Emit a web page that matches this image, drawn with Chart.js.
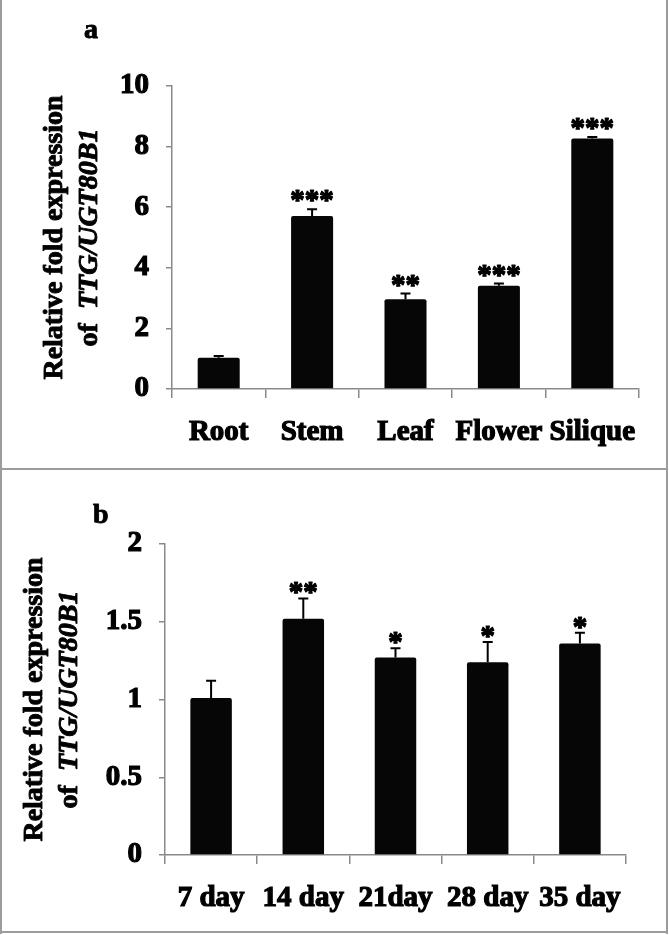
<!DOCTYPE html>
<html><head><meta charset="utf-8">
<script src="https://cdn.jsdelivr.net/npm/chart.js@4.4.0/dist/chart.umd.min.js"></script>
<style>
html,body{margin:0;padding:0;background:#fff;}
#wrap{position:relative;width:669px;height:935px;overflow:hidden;background:#fff;}
.box{position:absolute;left:0;width:669px;}
#pa{top:0;height:469px;}
#pb{top:470px;height:462px;}
.ln{position:absolute;background:#9c9c9c;}
</style></head><body>
<div id="wrap">
<div class="box" id="pa"><canvas id="ca"></canvas></div>
<div class="box" id="pb"><canvas id="cb"></canvas></div>
<div class="ln" style="left:0;top:0;width:2px;height:934px"></div>
<div class="ln" style="left:666px;top:0;width:2px;height:934px"></div>
<div class="ln" style="left:0;top:468px;width:668px;height:2px"></div>
<div class="ln" style="left:0;top:931px;width:668px;height:2px"></div>
</div>
<script>
// Panel a data
const tissues = ['Root', 'Stem', 'Leaf', 'Flower', 'Silique'];
const tissueExpr = [1.03, 5.71, 2.96, 3.41, 8.27];
const tissueErr = [0.06, 0.22, 0.19, 0.07, 0.05];
const tissueStars = ['', '***', '**', '***', '***'];
const tissueTicks = [0, 2, 4, 6, 8, 10];

// Panel b data
const stages = ['7 day', '14 day', '21day', '28 day', '35 day'];
const stageExpr = [1.01, 1.52, 1.27, 1.24, 1.36];
const stageErr = [0.11, 0.13, 0.06, 0.13, 0.07];
const stageStars = ['', '**', '*', '*', '*'];
const stageTicks = [0, 0.5, 1, 1.5, 2];

const titleLine1 = 'Relative fold expression';
const titleLine2a = 'of  ';
const titleLine2b = 'TTG/UGT80B1';

const SERIF = '"Liberation Serif","Times New Roman",serif';
const AXIS_GRAY = '#8a8a8a';

function strokeFill(ctx, txt, x, y, w) {
  ctx.lineWidth = w;
  ctx.strokeStyle = '#000';
  ctx.lineJoin = 'round';
  ctx.strokeText(txt, x, y);
  ctx.fillText(txt, x, y);
}

const extrasPlugin = {
  id: 'extras',
  afterDatasetsDraw(chart, args, opts) {
    const ctx = chart.ctx;
    const meta = chart.getDatasetMeta(0);
    const ys = chart.scales.y;
    const vals = chart.data.datasets[0].data;
    ctx.save();
    ctx.strokeStyle = '#000';
    ctx.lineWidth = 2;
    meta.data.forEach((bar, i) => {
      const top = ys.getPixelForValue(vals[i]);
      const cap = ys.getPixelForValue(vals[i] + opts.errors[i]);
      ctx.beginPath();
      ctx.moveTo(bar.x, top);
      ctx.lineTo(bar.x, cap);
      ctx.moveTo(bar.x - 5, cap);
      ctx.lineTo(bar.x + 5, cap);
      ctx.stroke();
    });
    ctx.fillStyle = '#000';
    ctx.font = 'bold 29px ' + SERIF;
    ctx.textAlign = 'center';
    ctx.textBaseline = 'alphabetic';
    meta.data.forEach((bar, i) => {
      if (!opts.stars[i]) return;
      const cap = ys.getPixelForValue(vals[i] + opts.errors[i]);
      strokeFill(ctx, opts.stars[i], bar.x, cap + opts.starOffset, 1.2);
    });
    ctx.restore();
  },
  afterDraw(chart, args, opts) {
    const ctx = chart.ctx;
    const ca = chart.chartArea;
    const cy = (ca.top + ca.bottom) / 2;
    ctx.save();
    ctx.fillStyle = '#000';
    ctx.textBaseline = 'middle';
    ctx.save();
    ctx.translate(opts.title1X, cy);
    ctx.rotate(-Math.PI / 2);
    ctx.textAlign = 'center';
    ctx.font = 'bold 28px ' + SERIF;
    strokeFill(ctx, titleLine1, 0, 0, 0.9);
    ctx.restore();
    ctx.save();
    ctx.translate(opts.title2X, cy);
    ctx.rotate(-Math.PI / 2);
    ctx.textAlign = 'left';
    ctx.font = 'bold 28px ' + SERIF;
    const w1 = ctx.measureText(titleLine2a).width;
    ctx.font = 'italic bold 28px ' + SERIF;
    const w2 = ctx.measureText(titleLine2b).width;
    const start = -(w1 + w2) / 2;
    ctx.font = 'bold 28px ' + SERIF;
    strokeFill(ctx, titleLine2a, start, 0, 0.9);
    ctx.font = 'italic bold 28px ' + SERIF;
    strokeFill(ctx, titleLine2b, start + w1, 0, 0.9);
    ctx.restore();
    ctx.textBaseline = 'alphabetic';
    ctx.textAlign = 'left';
    ctx.font = 'bold 28px ' + SERIF;
    strokeFill(ctx, opts.letter, opts.letterX, opts.letterY, 0.9);
    ctx.restore();
  }
};

function makeChart(id, labels, values, errors, stars, ticks, L) {
  return new Chart(document.getElementById(id), {
    type: 'bar',
    data: {
      labels: labels,
      datasets: [{
        data: values,
        backgroundColor: '#060606',
        borderWidth: 0,
        borderRadius: 2,
        borderSkipped: 'bottom',
        categoryPercentage: 1,
        barPercentage: 0.45
      }]
    },
    options: {
      responsive: true,
      maintainAspectRatio: false,
      animation: false,
      events: [],
      layout: { padding: { top: L.padTop, right: L.padRight, left: 0, bottom: 0 } },
      plugins: {
        legend: { display: false },
        tooltip: { enabled: false },
        title: { display: false },
        extras: {
          errors: errors, stars: stars, starOffset: L.starOffset,
          title1X: L.title1X, title2X: L.title2X,
          letter: L.letter, letterX: L.letterX, letterY: L.letterY
        }
      },
      scales: {
        x: {
          grid: { display: true, drawOnChartArea: false, drawTicks: true, tickLength: 9, color: AXIS_GRAY, lineWidth: 1.5, offset: true },
          border: { display: true, color: AXIS_GRAY, width: 1.5 },
          ticks: { color: '#000', font: { family: SERIF, size: 29, weight: 'bold' }, padding: 17, maxRotation: 0, autoSkip: false,
                   textStrokeColor: '#000', textStrokeWidth: 1.2 },
          afterFit: (s) => { s.height = L.xHeight; }
        },
        y: {
          min: ticks[0],
          max: ticks[ticks.length - 1],
          afterBuildTicks: (s) => { s.ticks = ticks.map(v => ({ value: v })); },
          grid: { display: true, drawOnChartArea: false, drawTicks: true, tickLength: 6, color: AXIS_GRAY, lineWidth: 1.5 },
          border: { display: true, color: AXIS_GRAY, width: 1.5 },
          ticks: { color: '#000', font: { family: SERIF, size: 29, weight: 'bold' }, padding: 17,
                   textStrokeColor: '#000', textStrokeWidth: 1.2,
                   callback: (v) => String(v) },
          afterFit: (s) => { s.width = L.yWidth; }
        }
      }
    },
    plugins: [extrasPlugin]
  });
}

makeChart('ca', tissues, tissueExpr, tissueErr, tissueStars, tissueTicks, {
  padTop: 86, padRight: 30, yWidth: 172, xHeight: 80, starOffset: 0,
  title1X: 55, title2X: 90, letter: 'a', letterX: 84, letterY: 38
});
makeChart('cb', stages, stageExpr, stageErr, stageStars, stageTicks, {
  padTop: 74, padRight: 43, yWidth: 165, xHeight: 77, starOffset: 3,
  title1X: 35, title2X: 70, letter: 'b', letterX: 93, letterY: 53
});
</script>
</body></html>
